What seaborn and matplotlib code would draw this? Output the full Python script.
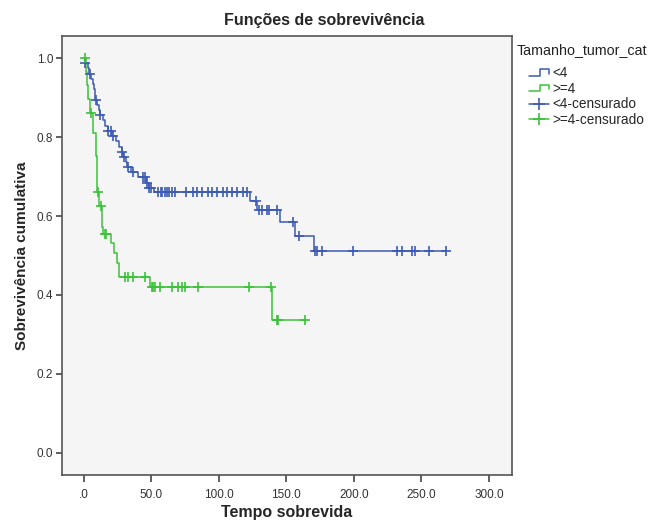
import numpy as np
import pandas as pd
import matplotlib
matplotlib.use("Agg")
import matplotlib.pyplot as plt
from matplotlib.lines import Line2D
from matplotlib.legend_handler import HandlerBase
import seaborn as sns

# Kaplan-Meier step estimates per tumour-size group (time, cumulative survival)
lt4_times = [0, 0.6, 3, 4, 5.5, 6.5, 7.5, 8, 8.5, 10, 11, 12, 14, 16, 18, 21, 24, 26,
             28, 29, 31, 32, 35, 40, 46, 48, 52, 123, 128.6, 145, 156.5, 170.6]
lt4_surv = [1.0, 0.987, 0.974, 0.960, 0.947, 0.934, 0.921, 0.908, 0.895, 0.882, 0.868,
            0.855, 0.842, 0.829, 0.816, 0.803, 0.789, 0.776, 0.763, 0.750, 0.737, 0.724,
            0.711, 0.698, 0.684, 0.671, 0.660, 0.639, 0.615, 0.584, 0.549, 0.512]
lt4_censored = [1, 4.7, 8.9, 12, 18, 20, 22, 28.6, 29.5, 33, 36.7, 44, 45.4, 46.7, 48.6,
                50, 55, 57, 57.8, 60.2, 61.7, 63, 65.3, 67.6, 75.8, 81.2, 83.7, 87.4,
                92.3, 95, 98.5, 103.4, 105.9, 109.6, 113.3, 118.2, 121, 127.4, 130, 132,
                136, 137.5, 143, 155, 159, 171.3, 173, 176, 199, 232, 235.5, 243, 245,
                255.5, 268.4]

ge4_times = [0, 1.5, 2.3, 3.2, 4.3, 7, 8.9, 9.6, 11.3, 13.3, 14.5, 20, 22.7, 24.4, 26.4,
             49, 139.5]
ge4_surv = [1.0, 0.966, 0.931, 0.897, 0.862, 0.810, 0.752, 0.662, 0.625, 0.573, 0.554,
            0.531, 0.507, 0.480, 0.446, 0.421, 0.337]
ge4_censored = [1, 5.2, 10.4, 12.6, 15.5, 16.3, 30.6, 33, 36.7, 45.4, 50.4, 51.6, 52.8,
                56.5, 65.2, 70, 72.6, 75, 84.4, 122.4, 138.5, 143.4, 144, 164]

group_names = ["<4", ">=4"]
x_ticks = [0, 50, 100, 150, 200, 250, 300]
x_tick_labels = [".0", "50.0", "100.0", "150.0", "200.0", "250.0", "300.0"]
y_ticks = [0.0, 0.2, 0.4, 0.6, 0.8, 1.0]
y_tick_labels = ["0.0", "0.2", "0.4", "0.6", "0.8", "1.0"]

BLUE = "#3d5bb3"
GREEN = "#3cc23a"
palette = {"<4": BLUE, ">=4": GREEN}


def level_at(times, surv, t):
    idx = np.searchsorted(times, t, side="right") - 1
    return surv[idx]


curve_rows, cens_rows = [], []
for name, times, surv, cens in [("<4", lt4_times, lt4_surv, lt4_censored),
                                (">=4", ge4_times, ge4_surv, ge4_censored)]:
    end = max(max(times), max(cens))
    for t, s in zip(list(times) + [end], list(surv) + [surv[-1]]):
        curve_rows.append({"tempo": t, "sobrev": s, "grupo": name})
    for t in cens:
        cens_rows.append({"tempo": t, "sobrev": level_at(times, surv, t), "grupo": name})

curves = pd.DataFrame(curve_rows)
censored = pd.DataFrame(cens_rows)

sns.set_style("white")
plt.rcParams["font.family"] = ["Liberation Sans", "DejaVu Sans"]

W, H = 652, 523
fig = plt.figure(figsize=(W / 100, H / 100), dpi=100)
ax = fig.add_axes([61.7 / W, 1 - 475 / H, (512 - 61.7) / W, (475 - 36) / H])
ax.set_facecolor("#f5f5f5")

for name in group_names:
    sns.lineplot(data=curves[curves.grupo == name], x="tempo", y="sobrev",
                 color=palette[name], drawstyle="steps-post", lw=1.1,
                 estimator=None, sort=False, ax=ax, legend=False)
    sns.scatterplot(data=censored[censored.grupo == name], x="tempo", y="sobrev",
                    color=palette[name], marker="+", s=55, linewidth=1.2,
                    ax=ax, legend=False, zorder=3)

ax.set_xlim(-16.3, 317)
ax.set_ylim(-0.056, 1.056)
ax.set_xticks(x_ticks)
ax.set_xticklabels(x_tick_labels)
ax.set_yticks(y_ticks)
ax.set_yticklabels(y_tick_labels)
ax.tick_params(axis="both", which="major", bottom=True, left=True, direction="out",
               width=1.2, color="#444444", labelsize=8.5, labelcolor="#333333")
ax.tick_params(axis="x", length=5, pad=5)
ax.tick_params(axis="y", length=4, pad=2)
for sp in ax.spines.values():
    sp.set_visible(True)
    sp.set_color("#555555")
    sp.set_linewidth(1.2)

ax.set_xlabel("Tempo sobrevida", fontsize=11.5, fontweight="bold", labelpad=3)
ax.set_ylabel("Sobrevivência cumulativa", fontsize=11, fontweight="bold", labelpad=6)
fig.text(324 / W, 1 - 21 / H, "Funções de sobrevivência", ha="center", va="center",
         fontsize=11.5, fontweight="bold")


class StepHandler(HandlerBase):
    def create_artists(self, legend, orig, xdescent, ydescent, width, height, fontsize, trans):
        x0, y0 = -xdescent, -ydescent
        xs = [x0, x0 + 0.55 * width, x0 + 0.55 * width, x0 + width, x0 + width]
        ys = [y0 + 0.15 * height, y0 + 0.15 * height, y0 + 0.85 * height,
              y0 + 0.85 * height, y0 + 0.35 * height]
        line = Line2D(xs, ys, color=orig.get_color(), lw=1.1, transform=trans)
        return [line]


h_lt4 = Line2D([], [], color=BLUE)
h_ge4 = Line2D([], [], color=GREEN)
h_lt4c = Line2D([], [], color=BLUE, lw=1.1, marker="+", markersize=8, markeredgewidth=1.2)
h_ge4c = Line2D([], [], color=GREEN, lw=1.1, marker="+", markersize=8, markeredgewidth=1.2)

fig.text(517 / W, 1 - 50 / H, "Tamanho_tumor_cat", ha="left", va="center", fontsize=10.3,
         color="#222222")
fig.legend([h_lt4, h_ge4, h_lt4c, h_ge4c],
           ["<4", ">=4", "<4-censurado", ">=4-censurado"],
           handler_map={h_lt4: StepHandler(), h_ge4: StepHandler()},
           loc="upper left", bbox_to_anchor=(529 / W, 1 - 66 / H), frameon=False,
           fontsize=9.8, handlelength=1.5, handletextpad=0.25, labelspacing=0.12,
           borderaxespad=0, borderpad=0, numpoints=1)

fig.savefig("out.png", dpi=100, facecolor="white")
